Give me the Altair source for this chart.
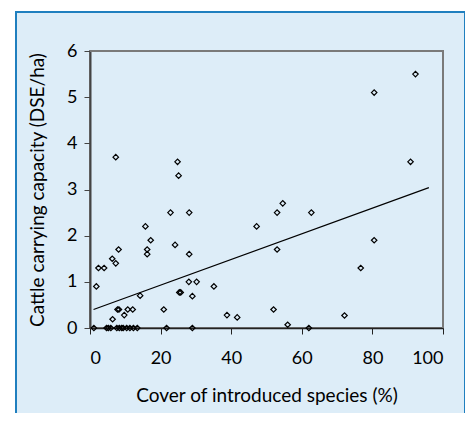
import altair as alt
import pandas as pd

# Data
cover_pct = [1.1, 4.7, 5.2, 5.9, 7.6, 8.3, 9.0, 9.4, 10.4, 11.3, 12.3, 13.4, 21.7, 29.0, 62.0,
             7.3, 15.7, 17.2, 16.2, 16.2, 8.1, 6.3, 7.3, 2.4, 4.0, 1.8, 14.2, 7.8, 8.2, 10.7,
             12.1, 9.7, 6.4, 20.9,
             24.8, 25.1, 22.8, 28.1, 24.1, 28.1, 28.0, 30.2, 25.3, 25.7, 29.0, 35.1, 38.8, 41.7,
             54.6, 53.0, 62.7, 47.2, 53.0, 52.0, 56.0,
             92.2, 80.5, 90.8, 80.5, 76.7, 72.1]
capacity = [0, 0, 0, 0, 0, 0, 0, 0, 0, 0, 0, 0, 0, 0, 0,
            3.7, 2.2, 1.9, 1.7, 1.6, 1.7, 1.5, 1.4, 1.3, 1.3, 0.9, 0.7, 0.4, 0.4, 0.4,
            0.4, 0.28, 0.19, 0.4,
            3.6, 3.3, 2.5, 2.5, 1.8, 1.6, 1.0, 1.0, 0.77, 0.77, 0.69, 0.9, 0.28, 0.23,
            2.7, 2.5, 2.5, 2.2, 1.7, 0.4, 0.07,
            5.5, 5.1, 3.6, 1.9, 1.3, 0.27]
trend_x = [1, 96]
trend_y = [0.40, 3.04]
x_ticks = [0, 20, 40, 60, 80, 100]
y_ticks = [0, 1, 2, 3, 4, 5, 6]
x_domain = [0, 100]
y_domain = [0, 6]

pts = pd.DataFrame({"x": cover_pct, "y": capacity})
trend = pd.DataFrame({"x": trend_x, "y": trend_y})
border = pd.DataFrame({
    "x": [x_domain[0], x_domain[1], x_domain[1]],
    "y": [y_domain[1], y_domain[1], y_domain[0]],
    "k": [0, 1, 2],
})

W, H = 353, 277
FONT = "Lato"

xscale = alt.Scale(domain=x_domain, nice=False)
yscale = alt.Scale(domain=y_domain, nice=False)

xaxis = alt.Axis(values=x_ticks, title="Cover of introduced species (%)", grid=False,
                 tickSize=6, labelPadding=15, titlePadding=19,
                 domainColor="#222222", tickColor="#222222", domainWidth=1.5)
yaxis = alt.Axis(values=y_ticks, title="Cattle carrying capacity (DSE/ha)", grid=False,
                 tickSize=6, labelPadding=7, titlePadding=19,
                 domainColor="#444444", tickColor="#444444", domainWidth=2)

one = alt.Data(values=[{"a": 1}])
# white margin outside the blue frame
outer = alt.Chart(one).mark_rect(fill=None, stroke="white", strokeWidth=20).encode(
    x=alt.value(-84), x2=alt.value(385), y=alt.value(-49), y2=alt.value(390))
# blue frame
frame = alt.Chart(one).mark_rect(fill=None, stroke="#1f7fbf", strokeWidth=2).encode(
    x=alt.value(-74), x2=alt.value(375), y=alt.value(-39), y2=alt.value(380))

# gray top and right sides of the plot box
edge = alt.Chart(border).mark_line(color="#7a7a7a", strokeWidth=2).encode(
    x=alt.X("x:Q", scale=xscale),
    y=alt.Y("y:Q", scale=yscale),
    order="k:Q",
)

points = alt.Chart(pts).mark_point(
    shape="diamond", filled=False, color="black", size=30, strokeWidth=1.2, opacity=1
).encode(
    x=alt.X("x:Q", scale=xscale, axis=xaxis),
    y=alt.Y("y:Q", scale=yscale, axis=yaxis),
)

line = alt.Chart(trend).mark_line(color="black", strokeWidth=1.2).encode(
    x=alt.X("x:Q", scale=xscale),
    y=alt.Y("y:Q", scale=yscale),
)

chart = alt.layer(outer, frame, edge, line, points).properties(
    width=W, height=H,
    autosize=alt.AutoSizeParams(type="none"),
    padding={"left": 82, "top": 43, "right": 22, "bottom": 85},
    background="#ddedf8",
).configure_view(stroke="#7a7a7a", strokeWidth=2).configure_axis(
    labelFont=FONT, titleFont=FONT, labelFontSize=18, titleFontSize=19,
    labelColor="black", titleColor="black", titleFontWeight="normal",
)

chart.save("out.html", embed_options={"renderer": "svg", "actions": False})
